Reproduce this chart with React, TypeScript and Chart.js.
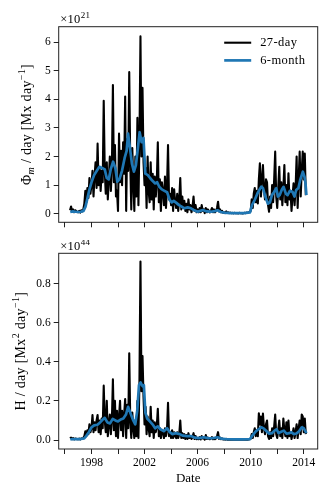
import React, { useEffect, useRef } from "react";
import { Chart, registerables } from "chart.js";

Chart.register(...registerables);

const FONT = "'Liberation Serif', 'DejaVu Serif', serif";
const FS = 11.5;
const TFS = 14;

// 27-day cadence samples (rows per year, 1996 starts mid-year)
const phi27 = [
  0.12, 0.25, 0.08, 0.15, 0.05, 0.12, 0.10, 0.06,
  0.05, 0.10, 0.04, 0.12, 0.08, 0.15, 0.35, 0.80, 0.40, 0.90, 0.55, 1.25, 0.70,
  1.00, 1.50, 0.60, 1.30, 1.80, 0.90, 2.45, 1.00, 1.60, 0.80, 1.50, 1.10, 3.95,
  1.50, 0.70, 1.80, 0.50, 1.20, 2.00, 0.80, 1.60, 4.50, 1.10, 2.40, 0.60, 0.80,
  0.10, 2.80, 1.10, 2.20, 1.00, 2.50, 1.40, 4.10, 0.10, 2.60, 1.50, 4.95, 1.80,
  0.15, 2.30, 1.10, 0.10, 2.00, 0.60, 3.35, 0.30, 2.50, 6.20, 2.00, 4.40, 1.80,
  1.00, 1.60, 0.20, 2.00, 0.80, 0.40, 1.80, 0.50, 1.40, 0.15, 1.30, 0.60, 1.10,
  2.50, 0.40, 1.20, 0.10, 1.10, 0.80, 0.30, 1.30, 0.20, 0.90, 2.40, 0.50, 0.70,
  0.30, 0.90, 0.10, 0.85, 0.40, 0.20, 0.70, 0.10, 0.50, 1.25, 0.15, 0.60, 0.20,
  0.45, 0.10, 0.35, 0.05, 0.50, 0.15, 0.30, 0.05, 0.25, 0.60, 0.10, 0.30, 0.05,
  0.15, 0.05, 0.20, 0.05, 0.30, 0.10, 0.15, 0.02, 0.20, 0.05, 0.15, 0.10, 0.05,
  0.10, 0.20, 0.05, 0.15, 0.05, 0.10, 0.20, 0.42, 0.08, 0.15, 0.05, 0.10, 0.03,
  0.05, 0.02, 0.08, 0.03, 0.05, 0.02, 0.04, 0.02, 0.03, 0.01, 0.03, 0.02, 0.02,
  0.02, 0.01, 0.03, 0.02, 0.02, 0.01, 0.02, 0.03, 0.02, 0.04, 0.03, 0.05, 0.06,
  0.10, 0.50, 0.20, 0.70, 0.90, 0.40, 0.80, 0.36, 1.20, 1.76, 0.60, 1.20, 1.70,
  0.90, 0.50, 1.20, 1.10, 0.30, 0.07, 0.60, 0.20, 1.00, 0.40, 1.20, 2.17, 0.60,
  0.20, 0.90, 1.64, 0.50, 1.10, 0.30, 0.90, 1.70, 0.40, 1.00, 0.30, 1.41, 0.50,
  0.80, 0.10, 0.60, 1.06, 0.30, 0.90, 2.00, 0.20, 1.20, 2.17, 0.60, 1.50, 2.17,
  1.20, 2.10, 0.65,
];

const hel27 = [
  0.008, 0.012, 0.004, 0.010, 0.003, 0.008, 0.006, 0.004,
  0.004, 0.007, 0.003, 0.008, 0.005, 0.010, 0.020, 0.045, 0.020, 0.050, 0.030, 0.080, 0.040,
  0.060, 0.128, 0.040, 0.090, 0.050, 0.100, 0.128, 0.040, 0.100, 0.030, 0.110, 0.060, 0.278,
  0.100, 0.040, 0.200, 0.020, 0.080, 0.130, 0.030, 0.100, 0.310, 0.050, 0.200, 0.020, 0.150,
  0.010, 0.120, 0.200, 0.050, 0.150, 0.020, 0.130, 0.210, 0.010, 0.180, 0.060, 0.444, 0.100,
  0.010, 0.140, 0.060, 0.010, 0.100, 0.020, 0.200, 0.010, 0.300, 0.913, 0.250, 0.430, 0.220,
  0.080, 0.170, 0.030, 0.120, 0.060, 0.020, 0.170, 0.040, 0.100, 0.010, 0.090, 0.040, 0.070,
  0.160, 0.020, 0.060, 0.010, 0.050, 0.040, 0.010, 0.060, 0.020, 0.050, 0.190, 0.020, 0.040,
  0.010, 0.050, 0.010, 0.040, 0.020, 0.010, 0.040, 0.010, 0.030, 0.100, 0.010, 0.035, 0.010,
  0.030, 0.005, 0.025, 0.005, 0.035, 0.010, 0.020, 0.005, 0.015, 0.035, 0.005, 0.020, 0.004,
  0.010, 0.004, 0.015, 0.003, 0.020, 0.008, 0.010, 0.002, 0.025, 0.005, 0.012, 0.006, 0.004,
  0.008, 0.015, 0.004, 0.010, 0.004, 0.008, 0.020, 0.040, 0.006, 0.012, 0.004, 0.008, 0.003,
  0.004, 0.002, 0.006, 0.002, 0.003, 0.001, 0.003, 0.001, 0.002, 0.001, 0.002, 0.001, 0.001,
  0.001, 0.001, 0.002, 0.001, 0.001, 0.001, 0.001, 0.002, 0.001, 0.002, 0.002, 0.003, 0.004,
  0.006, 0.030, 0.010, 0.040, 0.060, 0.020, 0.050, 0.020, 0.137, 0.080, 0.120, 0.040, 0.135,
  0.060, 0.030, 0.080, 0.100, 0.020, 0.005, 0.040, 0.010, 0.060, 0.020, 0.070, 0.130, 0.030,
  0.010, 0.050, 0.100, 0.020, 0.060, 0.010, 0.110, 0.050, 0.020, 0.090, 0.010, 0.100, 0.020,
  0.040, 0.005, 0.030, 0.060, 0.010, 0.040, 0.080, 0.010, 0.060, 0.100, 0.030, 0.130, 0.120,
  0.040, 0.110, 0.030,
];

// 6-month smoothed series (read at irregular dates)
const phi6mYears = [
  1996.4, 1996.6, 1996.8, 1997.0, 1997.2, 1997.4, 1997.55, 1997.7, 1997.85, 1998.0,
  1998.2, 1998.4, 1998.6, 1998.8, 1999.0, 1999.15, 1999.3, 1999.45, 1999.63, 1999.8,
  1999.95, 2000.1, 2000.3, 2000.5, 2000.65, 2000.76, 2000.9, 2001.05, 2001.2, 2001.35,
  2001.5, 2001.63, 2001.78, 2001.92, 2002.06, 2002.25, 2002.43, 2002.6, 2002.8, 2002.95,
  2003.1, 2003.3, 2003.5, 2003.7, 2003.9, 2004.05, 2004.2, 2004.4, 2004.6, 2004.8,
  2005.0, 2005.25, 2005.5, 2005.75, 2006.0, 2006.2, 2006.4, 2006.7, 2007.0, 2007.3,
  2007.5, 2007.75, 2008.0, 2008.5, 2009.0, 2009.5, 2009.95, 2010.1, 2010.3, 2010.5,
  2010.65, 2010.8, 2010.93, 2011.1, 2011.3, 2011.45, 2011.6, 2011.75, 2011.93, 2012.05,
  2012.18, 2012.35, 2012.48, 2012.65, 2012.78, 2012.95, 2013.15, 2013.3, 2013.43, 2013.6,
  2013.73, 2013.93, 2014.05, 2014.13, 2014.2,
];
const phi6m = [
  0.06, 0.08, 0.07, 0.06, 0.07, 0.10, 0.25, 0.55, 0.85, 1.10,
  1.35, 1.50, 1.64, 1.60, 1.55, 1.25, 1.20, 1.55, 1.82, 1.60,
  1.12, 1.20, 1.50, 1.95, 2.20, 2.80, 2.30, 1.75, 1.47, 1.70,
  2.30, 2.85, 2.50, 2.65, 1.40, 1.35, 1.24, 1.15, 1.06, 1.10,
  0.95, 0.85, 0.80, 0.75, 0.48, 0.40, 0.45, 0.38, 0.30, 0.25,
  0.19, 0.22, 0.19, 0.12, 0.07, 0.10, 0.13, 0.08, 0.07, 0.09,
  0.12, 0.06, 0.04, 0.02, 0.02, 0.02, 0.05, 0.30, 0.48, 0.70,
  0.83, 0.95, 0.89, 0.60, 0.35, 0.40, 0.65, 0.75, 0.89, 0.60,
  0.65, 0.85, 0.94, 0.70, 0.65, 0.80, 0.77, 0.60, 0.83, 0.90,
  1.18, 1.47, 1.30, 1.06, 0.65,
];

const hel6mYears = [
  1996.4, 1996.8, 1997.2, 1997.45, 1997.6, 1997.8, 1998.0, 1998.2, 1998.45, 1998.65,
  1998.85, 1999.0, 1999.2, 1999.4, 1999.6, 1999.8, 2000.0, 2000.2, 2000.4, 2000.6,
  2000.76, 2000.95, 2001.15, 2001.3, 2001.45, 2001.58, 2001.7, 2001.85, 2001.95, 2002.06,
  2002.2, 2002.4, 2002.6, 2002.8, 2003.0, 2003.2, 2003.45, 2003.7, 2003.9, 2004.1,
  2004.35, 2004.65, 2004.9, 2005.2, 2005.5, 2005.8, 2006.1, 2006.45, 2006.8, 2007.1,
  2007.5, 2007.8, 2008.2, 2008.8, 2009.4, 2009.95, 2010.15, 2010.4, 2010.6, 2010.8,
  2011.0, 2011.2, 2011.4, 2011.6, 2011.8, 2011.95, 2012.1, 2012.3, 2012.5, 2012.7,
  2012.9, 2013.05, 2013.25, 2013.45, 2013.65, 2013.85, 2014.0, 2014.12, 2014.2,
];
const hel6m = [
  0.004, 0.005, 0.005, 0.008, 0.020, 0.040, 0.065, 0.075, 0.078, 0.090,
  0.105, 0.113, 0.090, 0.085, 0.108, 0.100, 0.095, 0.105, 0.110, 0.130,
  0.170, 0.135, 0.100, 0.080, 0.150, 0.280, 0.295, 0.275, 0.280, 0.140,
  0.110, 0.095, 0.080, 0.060, 0.070, 0.055, 0.045, 0.060, 0.040, 0.030,
  0.035, 0.030, 0.022, 0.020, 0.020, 0.012, 0.010, 0.014, 0.010, 0.009,
  0.014, 0.007, 0.004, 0.003, 0.003, 0.005, 0.025, 0.045, 0.055, 0.065,
  0.058, 0.045, 0.032, 0.035, 0.048, 0.055, 0.035, 0.042, 0.048, 0.032,
  0.035, 0.040, 0.030, 0.033, 0.045, 0.065, 0.060, 0.045, 0.035,
];

const xTickYears = [1996, 1998, 2000, 2002, 2004, 2006, 2008, 2010, 2012, 2014];
const xLabelYears = [1998, 2002, 2006, 2010, 2014];
const phiTicks = [0, 1, 2, 3, 4, 5, 6];
const helTicks = [0, 0.2, 0.4, 0.6, 0.8];
const legendLabels = ["27-day", "6-month"];
const BLUE = "#1f77b4";

type Seg = { t: string; s?: "sup" | "sub"; i?: boolean };

function drawRich(ctx: CanvasRenderingContext2D, segs: Seg[], x: number, y: number, size: number, center: boolean, spacing: number) {
  const font = (g: Seg) => `${g.i ? "italic " : ""}${g.s ? size * 0.72 : size}px ${FONT}`;
  (ctx as any).letterSpacing = `${spacing}px`;
  let total = 0;
  const widths = segs.map((g) => {
    ctx.font = font(g);
    const w = ctx.measureText(g.t).width;
    total += w;
    return w;
  });
  let cx = center ? x - total / 2 : x;
  segs.forEach((g, i) => {
    ctx.font = font(g);
    const dy = g.s === "sup" ? -size * 0.4 : g.s === "sub" ? size * 0.2 : 0;
    ctx.fillText(g.t, cx, y + dy);
    cx += widths[i];
  });
  (ctx as any).letterSpacing = "0px";
}

const annotPlugin = {
  id: "annot",
  afterDraw(chart: any, _args: any, opts: any) {
    const { ctx, chartArea: a } = chart;
    ctx.save();
    ctx.strokeStyle = "#222";
    ctx.lineWidth = 1;
    ctx.strokeRect(a.left, a.top, a.right - a.left, a.bottom - a.top);
    ctx.fillStyle = "#000";
    ctx.textAlign = "left";
    ctx.textBaseline = "alphabetic";
    // offset text
    drawRich(ctx, [{ t: "×10" }, { t: opts.exp, s: "sup" }], a.left + 1.5, a.top - 3.5, 12.5, false, 0.3);
    // y title
    ctx.save();
    ctx.translate(opts.yTitleX, (a.top + a.bottom) / 2);
    ctx.rotate(-Math.PI / 2);
    drawRich(ctx, opts.yTitle, 0, TFS * 0.35, TFS, true, 0.3);
    ctx.restore();
    if (opts.xTitle) {
      ctx.font = `13px ${FONT}`;
      ctx.textAlign = "center";
      ctx.textBaseline = "middle";
      ctx.fillText(opts.xTitle, (a.left + a.right) / 2, opts.xTitleY);
    }
    if (opts.legend) {
      const ds = chart.data.datasets;
      ds.forEach((d: any, i: number) => {
        const y = a.top + 16 + i * 17.7;
        ctx.strokeStyle = d.borderColor;
        ctx.lineWidth = d.borderWidth;
        ctx.beginPath();
        ctx.moveTo(a.left + 165.5, y);
        ctx.lineTo(a.left + 192.5, y);
        ctx.stroke();
        ctx.font = `12.5px ${FONT}`;
        (ctx as any).letterSpacing = "0.4px";
        ctx.textAlign = "left";
        ctx.textBaseline = "middle";
        ctx.fillStyle = "#000";
        ctx.fillText(d.label, a.left + 201.5, y + 0.5);
        (ctx as any).letterSpacing = "0px";
      });
    }
    ctx.restore();
  },
};

function buildConfig(opts: {
  black: number[];
  blueYears: number[];
  blue: number[];
  yMin: number;
  yMax: number;
  yTicks: number[];
  yFmt: (v: number) => string;
  showX: boolean;
  padTop: number;
  xHeight: number;
  annot: any;
}): any {
  const blackData = opts.black.map((v, i) => ({ x: 1996 + (5 + i) / 13, y: v }));
  const blueData = opts.blue.map((v, i) => ({ x: opts.blueYears[i], y: v }));
  return {
    type: "line",
    data: {
      datasets: [
        {
          label: legendLabels[0],
          data: blackData,
          borderColor: "#000",
          borderWidth: 2.1,
          pointRadius: 0,
          tension: 0,
          order: 2,
          borderJoinStyle: "round",
        },
        {
          label: legendLabels[1],
          data: blueData,
          borderColor: BLUE,
          borderWidth: 2.7,
          pointRadius: 0,
          tension: 0,
          order: 1,
          borderJoinStyle: "round",
        },
      ],
    },
    options: {
      animation: false,
      responsive: false,
      devicePixelRatio: 1,
      layout: { padding: { top: opts.padTop, right: 17.3, left: 0, bottom: 0 } },
      plugins: {
        legend: { display: false },
        tooltip: { enabled: false },
        annot: opts.annot,
      },
      scales: {
        x: {
          type: "linear",
          min: 1995.53,
          max: 2015.05,
          afterBuildTicks: (s: any) => {
            s.ticks = xTickYears.map((v) => ({ value: v }));
          },
          afterFit: (s: any) => {
            s.height = opts.xHeight;
          },
          ticks: {
            display: opts.showX,
            autoSkip: false,
            maxRotation: 0,
            padding: 2,
            color: "#000",
            font: { family: FONT, size: FS },
            callback: (v: number) => (xLabelYears.includes(v) ? String(v) : ""),
          },
          grid: { drawOnChartArea: false, drawTicks: true, tickLength: 5, tickColor: "#222", color: "#222", lineWidth: 1 },
          border: { display: false },
        },
        y: {
          type: "linear",
          min: opts.yMin,
          max: opts.yMax,
          afterBuildTicks: (s: any) => {
            s.ticks = opts.yTicks.map((v) => ({ value: v }));
          },
          afterFit: (s: any) => {
            s.width = 58.7;
          },
          ticks: {
            padding: 3,
            color: "#000",
            font: { family: FONT, size: FS },
            callback: (v: number) => opts.yFmt(v),
          },
          grid: { drawOnChartArea: false, drawTicks: true, tickLength: 5, tickColor: "#222", color: "#222", lineWidth: 1 },
          border: { display: false },
        },
      },
    },
    plugins: [annotPlugin],
  };
}

export default function App() {
  const topRef = useRef<HTMLCanvasElement>(null);
  const botRef = useRef<HTMLCanvasElement>(null);

  useEffect(() => {
    const c1 = new Chart(
      topRef.current as HTMLCanvasElement,
      buildConfig({
        black: phi27,
        blueYears: phi6mYears,
        blue: phi6m,
        yMin: -0.3,
        yMax: 6.54,
        yTicks: phiTicks,
        yFmt: (v) => String(v),
        showX: false,
        padTop: 26.7,
        xHeight: 240 - 222.3,
        annot: {
          exp: "21",
          yTitleX: 26,
          yTitle: [{ t: "Φ" }, { t: "m", s: "sub", i: true }, { t: " / day [Mx day" }, { t: "−1", s: "sup" }, { t: "]" }],
          legend: true,
        },
      })
    );
    const c2 = new Chart(
      botRef.current as HTMLCanvasElement,
      buildConfig({
        black: hel27,
        blueYears: hel6mYears,
        blue: hel6m,
        yMin: -0.046,
        yMax: 0.955,
        yTicks: helTicks,
        yFmt: (v) => v.toFixed(1),
        showX: true,
        padTop: 13.3,
        xHeight: 51,
        annot: {
          exp: "44",
          yTitleX: 20,
          yTitle: [{ t: "H / day [Mx" }, { t: "2", s: "sup" }, { t: " day" }, { t: "−1", s: "sup" }, { t: "]" }],
          legend: false,
          xTitle: "Date",
          xTitleY: 479 - 240,
        },
      })
    );
    return () => {
      c1.destroy();
      c2.destroy();
    };
  }, []);

  return (
    <div style={{ position: "absolute", left: 0, top: 0, width: 335, height: 500, background: "#fff" }}>
      <canvas ref={topRef} width={335} height={240} style={{ position: "absolute", left: 0, top: 0, width: 335, height: 240 }} />
      <canvas ref={botRef} width={335} height={260} style={{ position: "absolute", left: 0, top: 240, width: 335, height: 260 }} />
    </div>
  );
}
